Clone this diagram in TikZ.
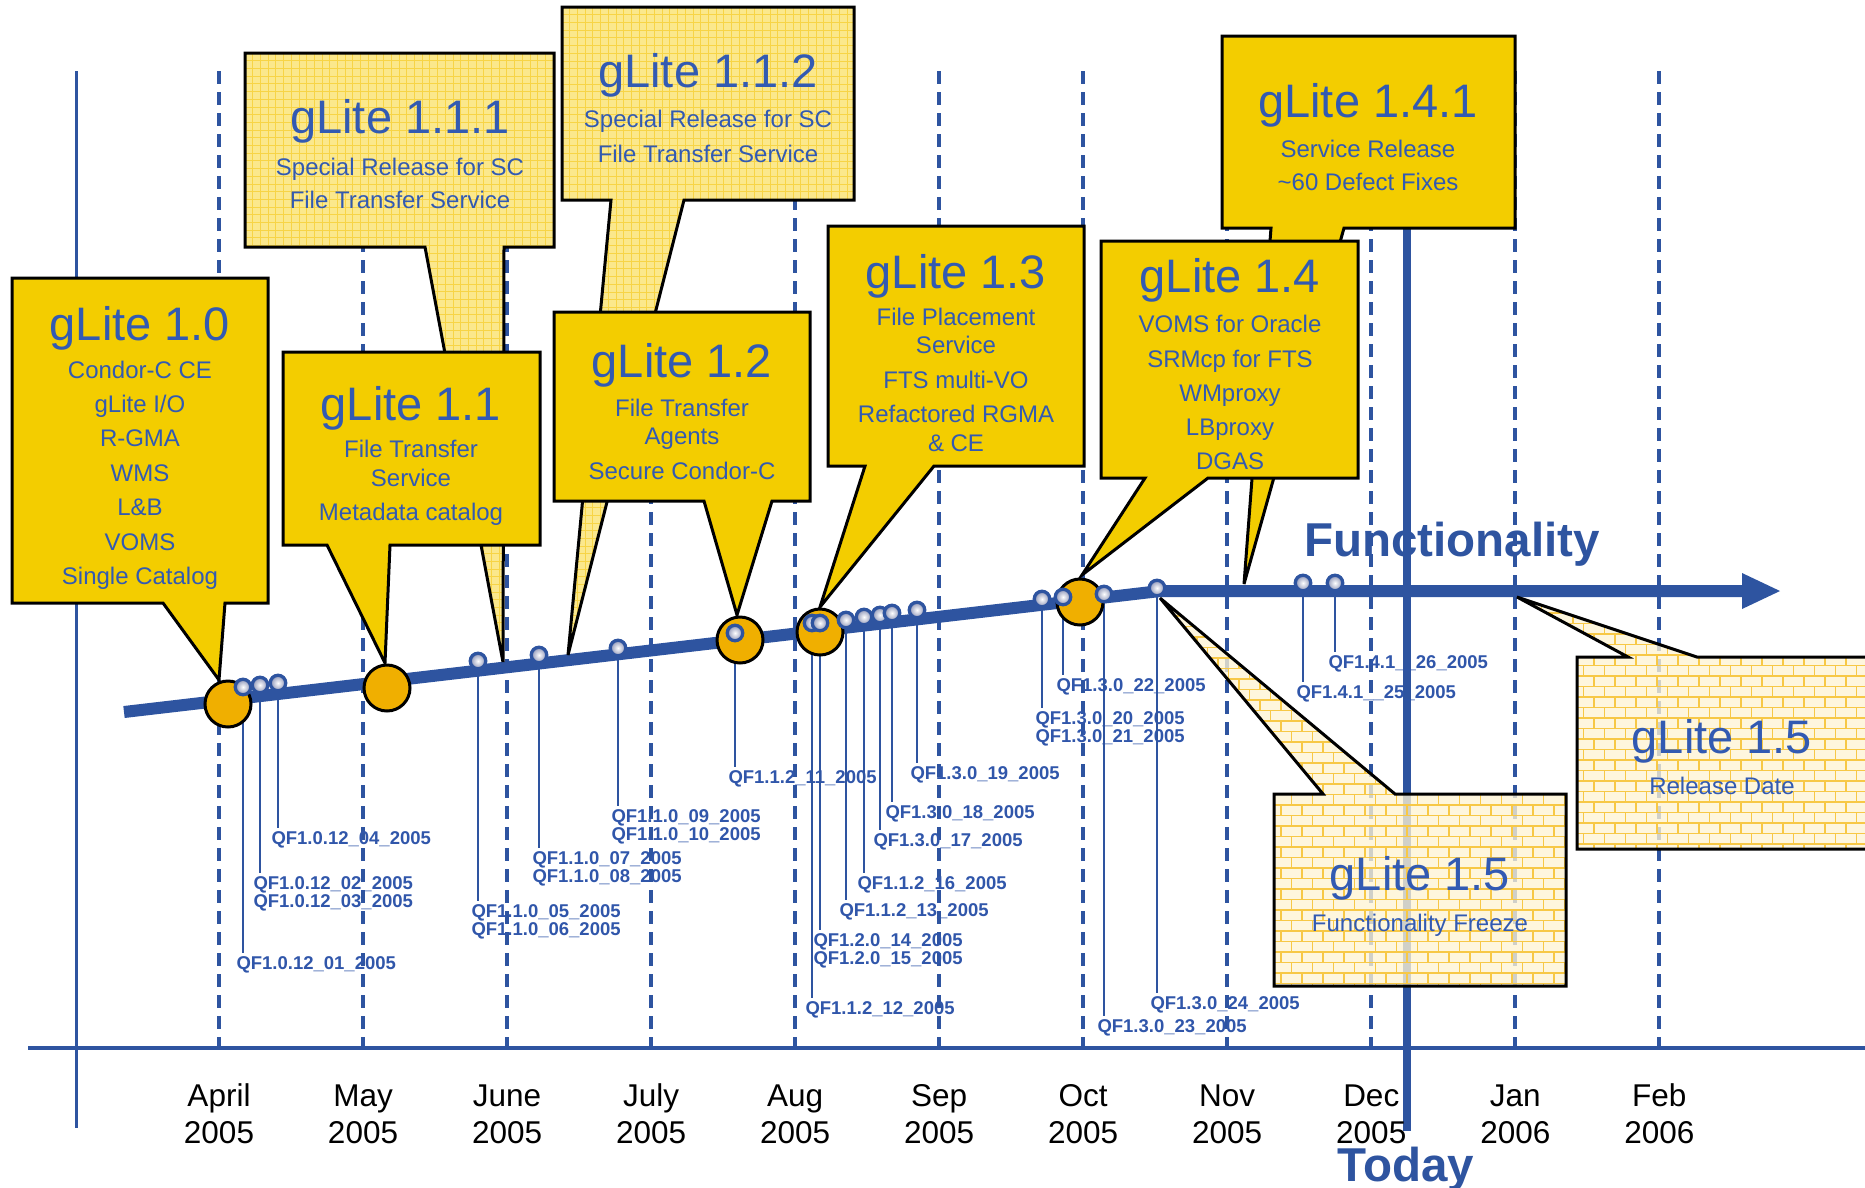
\documentclass[tikz,border=0pt]{standalone}
\usepackage{fontspec}
\setmainfont{Liberation Sans}
\definecolor{gblue}{RGB}{46,84,160}
\definecolor{tblue}{RGB}{50,90,178}
\definecolor{lblue}{RGB}{48,86,170}
\definecolor{gyel}{RGB}{243,205,0}
\definecolor{gorange}{RGB}{240,175,0}
\definecolor{gridbg}{RGB}{251,232,140}
\definecolor{gridln}{RGB}{247,212,70}
\definecolor{brickbg}{RGB}{254,244,212}
\definecolor{brickln}{RGB}{247,200,70}
\definecolor{mkgray}{RGB}{140,148,182}
\newcommand{\ttlf}{\fontsize{47}{52}\selectfont}
\newcommand{\subf}{\fontsize{24}{28}\selectfont}
\newcommand{\qff}{\fontsize{18.5}{20}\selectfont\bfseries}
\newcommand{\monf}{\fontsize{31.5}{36}\selectfont}
\newcommand{\bigf}{\fontsize{47.5}{52}\selectfont\bfseries}
% QF marker with one label line
\newcommand{\qfA}[5]{%
  \coordinate (p#1) at (#2,#3);
  \node[qflab] (l#1) at ({#2-6.5},#4) {#5};
  \draw[qfline] (p#1) -- ([yshift=3.5pt]p#1 |- l#1.north);
}
% QF marker with two label lines
\newcommand{\qfB}[6]{%
  \coordinate (p#1) at (#2,#3);
  \node[qflab] (l#1) at ({#2-6.5},#4) {#5};
  \node[qflab] (l#1b) at ({#2-6.5},{#4+18.5}) {#6};
  \draw[qfline] (p#1) -- ([yshift=3.5pt]p#1 |- l#1.north);
}
\newcommand{\tline}[4]{\node[txt,font=\subf] (#1) at (#2,#3) {#4};}
\newcommand{\ttitle}[4]{\node[txt,font=\ttlf] (#1) at (#2,#3) {#4};}
\newcommand{\brickset}[4]{%
  \foreach \br in {0,...,#3}{
    \pgfmathsetmacro{\brky}{#2+\br*10.5}
    \pgfmathsetmacro{\brkoff}{mod(\br,2)*10.5}
    \draw[brickln, line width=1.1] (#1,\brky) -- ({#1+#4*21},\brky);
    \foreach \bc in {0,...,#4}{
      \draw[brickln, line width=1.1] ({#1+\brkoff+\bc*21},\brky) -- ++(0,10.5);
    }
  }
}
\begin{document}
\begin{tikzpicture}[x=1pt,y=-1pt,
  dashln/.style={gblue, line width=3.8, dash pattern=on 13 off 8},
  qfline/.style={gblue, line width=2.7},
  qflab/.style={anchor=base west, inner sep=0, outer sep=0, text=lblue, font=\qff},
  txt/.style={anchor=base, inner sep=0, outer sep=0, text=tblue},
  mk/.style={circle, draw=gblue, line width=3.3, minimum size=15.5, inner sep=0, inner color=white, outer color=mkgray},
  bigc/.style={circle, draw=black, line width=3, fill=gorange, minimum size=46, inner sep=0},
  cbox/.style={draw=black, line width=3, fill=gyel, line join=miter},
  cline/.style={draw=black, line width=3, line join=miter},
]
\useasboundingbox (0,0) rectangle (1865,1187);
\fill[white] (0,0) rectangle (1865,1187);

% month grid lines
\foreach \i in {0,...,10}
  \draw[dashln] ({219+144.03*\i},71) -- ({219+144.03*\i},1048);
% axes
\draw[gblue, line width=3] (76,71) -- (76,1128);
\draw[gblue, line width=4.5] (28,1048) -- (1870,1048);
% today line
\draw[gblue, line width=8] (1407,100) -- (1407,1131);

% QF markers: lines and labels
\qfA{1}{243}{687}{969}{QF1.0.12\_01\_2005}
\qfB{2}{260}{685}{889}{QF1.0.12\_02\_2005}{QF1.0.12\_03\_2005}
\qfA{3}{278}{683}{844}{QF1.0.12\_04\_2005}
\qfB{4}{478}{661}{917}{QF1.1.0\_05\_2005}{QF1.1.0\_06\_2005}
\qfB{5}{539}{655}{864}{QF1.1.0\_07\_2005}{QF1.1.0\_08\_2005}
\qfB{6}{618}{648}{822}{QF1.1.0\_09\_2005}{QF1.1.0\_10\_2005}
\qfA{7}{735}{633}{783}{QF1.1.2\_11\_2005}
\qfA{8}{812}{623}{1014}{QF1.1.2\_12\_2005}
\qfB{9}{820}{623}{946}{QF1.2.0\_14\_2005}{QF1.2.0\_15\_2005}
\qfA{10}{846}{620}{916}{QF1.1.2\_13\_2005}
\qfA{11}{864}{617}{889}{QF1.1.2\_16\_2005}
\qfA{12}{880}{615}{846}{QF1.3.0\_17\_2005}
\qfA{13}{892}{613}{818}{QF1.3.0\_18\_2005}
\qfA{14}{917}{610}{779}{QF1.3.0\_19\_2005}
\qfB{15}{1042}{599}{724}{QF1.3.0\_20\_2005}{QF1.3.0\_21\_2005}
\qfA{16}{1063}{597}{691}{QF1.3.0\_22\_2005}
\qfA{17}{1104}{594}{1032}{QF1.3.0\_23\_2005}
\qfA{18}{1157}{588}{1009}{QF1.3.0\_24\_2005}
\qfA{19}{1303}{583}{698}{QF1.4.1\_\_25\_2005}
\qfA{20}{1335}{583}{668}{QF1.4.1\_\_26\_2005}

% timeline
\draw[gblue, line width=12] (124,712) -- (1160,591) -- (1746,591);
\fill[gblue] (1742,573) -- (1780,591) -- (1742,609) -- cycle;

% gLite 1.0
\draw[cbox] (12,278) -- (268,278) -- (268,603) -- (225,603) -- (219,680) -- (163,603) -- (12,603) -- cycle;
% gLite 1.1.1 (grid)
\fill[gridbg] (245,53) -- (554,53) -- (554,247) -- (504,247) -- (503,662) -- (425,247) -- (245,247) -- cycle;
\begin{scope}
  \clip (245,53) -- (554,53) -- (554,247) -- (504,247) -- (503,662) -- (425,247) -- (245,247) -- cycle;
  \foreach \k in {0,...,42} \draw[gridln, line width=0.7] ({245+7.7*\k},50) -- ({245+7.7*\k},665);
  \foreach \k in {0,...,80} \draw[gridln, line width=0.7] (240,{53+7.7*\k}) -- (560,{53+7.7*\k});
\end{scope}
\draw[cline] (245,53) -- (554,53) -- (554,247) -- (504,247) -- (503,662) -- (425,247) -- (245,247) -- cycle;
% gLite 1.1
\draw[cbox] (283,352) -- (540,352) -- (540,545) -- (390,545) -- (385,663) -- (327,545) -- (283,545) -- cycle;
% gLite 1.1.2 (grid)
\fill[gridbg] (562,7) -- (854,7) -- (854,200) -- (684,200) -- (568,655) -- (611,200) -- (562,200) -- cycle;
\begin{scope}
  \clip (562,7) -- (854,7) -- (854,200) -- (684,200) -- (568,655) -- (611,200) -- (562,200) -- cycle;
  \foreach \k in {0,...,40} \draw[gridln, line width=0.7] ({562+7.7*\k},0) -- ({562+7.7*\k},660);
  \foreach \k in {0,...,86} \draw[gridln, line width=0.7] (555,{7+7.7*\k}) -- (860,{7+7.7*\k});
\end{scope}
\draw[cline] (562,7) -- (854,7) -- (854,200) -- (684,200) -- (568,655) -- (611,200) -- (562,200) -- cycle;
% gLite 1.2
\draw[cbox] (554,312) -- (810,312) -- (810,501) -- (772,501) -- (737,615) -- (704,501) -- (554,501) -- cycle;
% gLite 1.3
\draw[cbox] (828,226) -- (1084,226) -- (1084,466) -- (934,466) -- (820,607) -- (865,466) -- (828,466) -- cycle;
% gLite 1.4.1
\draw[cbox] (1222,36) -- (1515,36) -- (1515,228) -- (1344,228) -- (1244,584) -- (1271,228) -- (1222,228) -- cycle;
% gLite 1.4
\draw[cbox] (1101,241) -- (1358,241) -- (1358,478) -- (1208,478) -- (1082,575) -- (1145,478) -- (1101,478) -- cycle;
% gLite 1.5 freeze (bricks)
\fill[brickbg, fill opacity=0.78] (1274,794) -- (1323,794) -- (1160,598) -- (1395,794) -- (1566,794) -- (1566,986) -- (1274,986) -- cycle;
\begin{scope}
  \clip (1274,794) -- (1323,794) -- (1160,598) -- (1395,794) -- (1566,794) -- (1566,986) -- (1274,986) -- cycle;
  \brickset{1155}{595}{38}{20}
\end{scope}
\draw[cline] (1274,794) -- (1323,794) -- (1160,598) -- (1395,794) -- (1566,794) -- (1566,986) -- (1274,986) -- cycle;
% gLite 1.5 release (bricks)
\fill[brickbg, fill opacity=0.78] (1577,657) -- (1628,657) -- (1517,597) -- (1697,657) -- (1868,657) -- (1868,849) -- (1577,849) -- cycle;
\begin{scope}
  \clip (1577,657) -- (1628,657) -- (1517,597) -- (1697,657) -- (1868,657) -- (1868,849) -- (1577,849) -- cycle;
  \brickset{1510}{592}{25}{17}
\end{scope}
\draw[cline] (1577,657) -- (1628,657) -- (1517,597) -- (1697,657) -- (1868,657) -- (1868,849) -- (1577,849) -- cycle;

% milestone circles
\node[bigc] (c10) at (228,704) {};
\node[bigc] (c11) at (387,688) {};
\node[bigc] (c12) at (740,640) {};
\node[bigc] (c13) at (820,632) {};
\node[bigc] (c14) at (1080,602) {};

% QF marker circles
\foreach \i in {1,...,20} \node[mk] (m\i) at (p\i) {};

% callout texts
\ttitle{t10}{140}{340}{gLite 1.0}
\tline{t10a}{140}{378}{Condor-C CE}
\tline{t10b}{140}{412.4}{gLite I/O}
\tline{t10c}{140}{446.8}{R-GMA}
\tline{t10d}{140}{481.2}{WMS}
\tline{t10e}{140}{515.6}{L\&B}
\tline{t10f}{140}{550}{VOMS}
\tline{t10g}{140}{584.4}{Single Catalog}

\ttitle{t111}{400}{133}{gLite 1.1.1}
\tline{t111a}{400}{175}{Special Release for SC}
\tline{t111b}{400}{208}{File Transfer Service}

\ttitle{t112}{708}{87}{gLite 1.1.2}
\tline{t112a}{708}{127}{Special Release for SC}
\tline{t112b}{708}{162}{File Transfer Service}

\ttitle{t11}{411}{420}{gLite 1.1}
\tline{t11a}{411}{457}{File Transfer}
\tline{t11b}{411}{486}{Service}
\tline{t11c}{411}{520}{Metadata catalog}

\ttitle{t12}{682}{377}{gLite 1.2}
\tline{t12a}{682}{416}{File Transfer}
\tline{t12b}{682}{444}{Agents}
\tline{t12c}{682}{479}{Secure Condor-C}

\ttitle{t13}{956}{288}{gLite 1.3}
\tline{t13a}{956}{325}{File Placement}
\tline{t13b}{956}{353}{Service}
\tline{t13c}{956}{388}{FTS multi-VO}
\tline{t13d}{956}{422}{Refactored RGMA}
\tline{t13e}{956}{451}{\& CE}

\ttitle{t141}{1368}{117}{gLite 1.4.1}
\tline{t141a}{1368}{157}{Service Release}
\tline{t141b}{1368}{190}{\textasciitilde60 Defect Fixes}

\ttitle{t14}{1230}{292}{gLite 1.4}
\tline{t14a}{1230}{332}{VOMS for Oracle}
\tline{t14b}{1230}{367}{SRMcp for FTS}
\tline{t14c}{1230}{401}{WMproxy}
\tline{t14d}{1230}{435}{LBproxy}
\tline{t14e}{1230}{469}{DGAS}

\ttitle{t15f}{1420}{890}{gLite 1.5}
\tline{t15fa}{1420}{931}{Functionality Freeze}
\ttitle{t15r}{1722}{753}{gLite 1.5}
\tline{t15ra}{1722}{794}{Release Date}

% month labels
\foreach \mn/\yr [count=\i from 0] in {April/2005,May/2005,June/2005,July/2005,Aug/2005,Sep/2005,Oct/2005,Nov/2005,Dec/2005,Jan/2006,Feb/2006}{
  \node[txt, text=black, font=\monf] (mon\i) at ({219+144.03*\i},1106) {\mn};
  \node[txt, text=black, font=\monf] (yr\i) at ({219+144.03*\i},1143) {\yr};
}

\node[txt, text=gblue, font=\bigf] (func) at (1452,556) {Functionality};
\node[txt, text=gblue, font=\bigf] (today) at (1406,1181) {Today};
\end{tikzpicture}
\end{document}
